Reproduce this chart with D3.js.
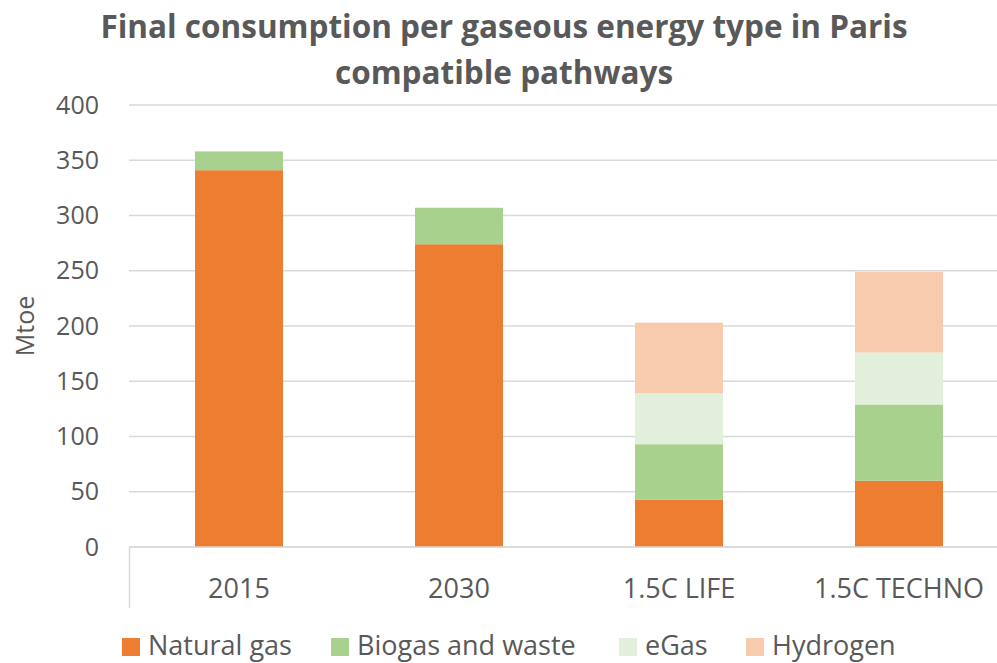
<!DOCTYPE html>
<html>
<head>
<meta charset="utf-8">
<script src="https://cdn.jsdelivr.net/npm/d3@7"></script>
<style>
  body { margin: 0; background: #fff; }
  text { font-family: "Open Sans", sans-serif; fill: #595959; }
</style>
</head>
<body>
<svg width="997" height="663"></svg>
<script>
const categories = ['2015', '2030', '1.5C LIFE', '1.5C TECHNO'];
const seriesNames = ['Natural gas', 'Biogas and waste', 'eGas', 'Hydrogen'];
const naturalGas = [341, 274, 43, 60];
const biogas = [17, 33, 50, 69];
const eGas = [0, 0, 46, 47];
const hydrogen = [0, 0, 64, 73];
const yTicks = [0, 50, 100, 150, 200, 250, 300, 350, 400];

const colors = ['#ED7D31', '#A9D18E', '#E2EFDA', '#F8CBAD'];

const svg = d3.select('svg');

// rows for the stack
const rows = categories.map((c, i) => ({
    cat: c,
    'Natural gas': naturalGas[i],
    'Biogas and waste': biogas[i],
    'eGas': eGas[i],
    'Hydrogen': hydrogen[i]
}));

const x = d3.scaleBand()
    .domain(categories)
    .range([129, 1009])
    .paddingInner(0.6)
    .paddingOuter(0.3);

const y = d3.scaleLinear()
    .domain([0, 400])
    .range([547, 105]);

// gridlines
svg.append('g')
    .selectAll('line')
    .data(yTicks)
    .enter().append('line')
    .attr('x1', 129)
    .attr('x2', 1009)
    .attr('y1', d => y(d))
    .attr('y2', d => y(d))
    .attr('stroke', '#d9d9d9')
    .attr('stroke-width', 1.5);

// y axis labels
const yAxis = svg.append('g')
    .attr('transform', 'translate(99,0)')
    .call(d3.axisLeft(y).tickValues(yTicks).tickSize(0).tickPadding(0));
yAxis.select('.domain').remove();
yAxis.selectAll('text')
    .attr('font-size', 25)
    .attr('font-family', '"Open Sans", sans-serif')
    .attr('fill', '#595959');

// bars
const stack = d3.stack().keys(seriesNames);
const layers = stack(rows);

svg.append('g')
    .selectAll('g')
    .data(layers)
    .enter().append('g')
    .attr('fill', (d, i) => colors[i])
    .selectAll('rect')
    .data(d => d)
    .enter().append('rect')
    .attr('x', d => x(d.data.cat))
    .attr('width', x.bandwidth())
    .attr('y', d => y(d[1]))
    .attr('height', d => y(d[0]) - y(d[1]));

// x axis
svg.append('line')
    .attr('x1', 129).attr('x2', 1009)
    .attr('y1', y(0)).attr('y2', y(0))
    .attr('stroke', '#d9d9d9').attr('stroke-width', 1.5);
svg.append('line')
    .attr('x1', 129.5).attr('x2', 129.5)
    .attr('y1', y(0)).attr('y2', 608)
    .attr('stroke', '#d9d9d9').attr('stroke-width', 1.5);

svg.append('g')
    .selectAll('text')
    .data(categories)
    .enter().append('text')
    .attr('x', d => x(d) + x.bandwidth() / 2)
    .attr('y', 598)
    .attr('text-anchor', 'middle')
    .attr('font-size', 27)
    .text(d => d);

// y title
svg.append('text')
    .attr('transform', 'translate(34,' + ((y(0) + y(400)) / 2) + ') rotate(-90)')
    .attr('text-anchor', 'middle')
    .attr('font-size', 25)
    .text('Mtoe');

// chart title
const title = svg.append('text')
    .attr('text-anchor', 'middle')
    .attr('font-size', 31.5)
    .attr('font-weight', 'bold');
title.append('tspan').attr('x', 504).attr('y', 38)
    .text('Final consumption per gaseous energy type in Paris');
title.append('tspan').attr('x', 504).attr('y', 84)
    .text('compatible pathways');

// legend
const legendX = [122, 331, 619, 746];
const legend = svg.append('g')
    .selectAll('g')
    .data(seriesNames)
    .enter().append('g')
    .attr('transform', (d, i) => 'translate(' + legendX[i] + ',0)');
legend.append('rect')
    .attr('y', 638)
    .attr('width', 18)
    .attr('height', 18)
    .attr('fill', (d, i) => colors[i]);
legend.append('text')
    .attr('x', 26)
    .attr('y', 655)
    .attr('font-size', 27)
    .text(d => d);
</script>
</body>
</html>
